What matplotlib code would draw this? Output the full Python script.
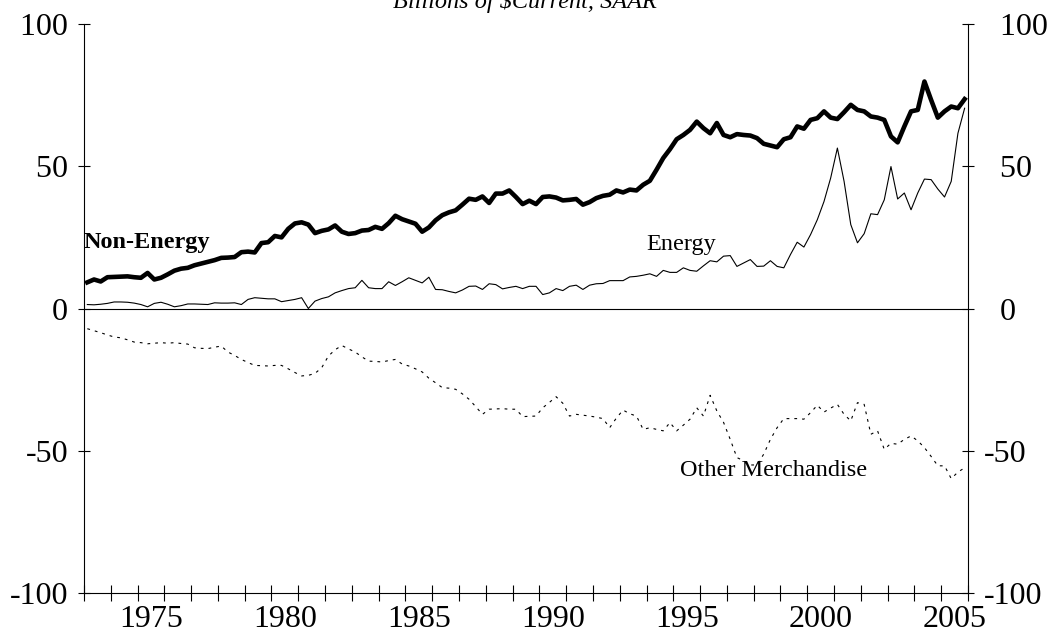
import numpy as np
import matplotlib
matplotlib.use("Agg")
import matplotlib.pyplot as plt

# quarterly, 1973Q1 .. 2005Q4, billions of current $, SAAR
non_energy = [
    9.2, 10.2, 9.5, 11.0,   11.1, 11.2, 11.3, 11.0,   10.8, 12.5, 10.2, 10.8,
    12.0, 13.3, 14.0, 14.3,  15.2, 15.8, 16.4, 17.0,   17.8, 17.9, 18.1, 19.8,
    20.0, 19.7, 23.0, 23.3,  25.5, 25.0, 28.0, 29.9,   30.3, 29.5, 26.5, 27.3,
    27.8, 29.2, 27.0, 26.2,  26.5, 27.4, 27.6, 28.7,   28.0, 30.0, 32.6, 31.4,
    30.6, 29.8, 27.0, 28.5,  31.0, 32.8, 33.8, 34.5,   36.5, 38.6, 38.2, 39.4,
    37.1, 40.4, 40.4, 41.5,  39.2, 36.7, 37.9, 36.7,   39.2, 39.4, 39.0, 38.0,
    38.2, 38.5, 36.5, 37.4,  38.8, 39.6, 40.0, 41.5,   40.8, 41.8, 41.5, 43.5,
    44.9, 48.8, 52.9, 56.0,  59.5, 61.0, 62.8, 65.7,   63.4, 61.6, 65.2, 61.0,
    60.2, 61.3, 61.0, 60.8,  59.9, 57.9, 57.3, 56.7,   59.5, 60.2, 64.0, 63.2,
    66.3, 66.9, 69.3, 67.1,  66.6, 69.0, 71.6, 69.8,   69.3, 67.5, 67.1, 66.3,
    60.5, 58.4, 64.0, 69.3,  69.8, 79.8, 73.3, 67.1,   69.3, 71.0, 70.4, 73.6,
]
energy = [
    1.4, 1.3, 1.5, 1.8,   2.3, 2.3, 2.2, 1.9,   1.4, 0.6, 1.8, 2.2,
    1.5, 0.6, 1.0, 1.6,   1.6, 1.5, 1.4, 2.0,   1.9, 1.9, 2.0, 1.4,
    3.2, 3.8, 3.6, 3.4,   3.4, 2.4, 2.8, 3.2,   3.8, 0.0, 2.6, 3.5,
    4.1, 5.5, 6.3, 7.0,   7.3, 9.9, 7.3, 7.0,   7.0, 9.4, 8.1, 9.4,
    10.8, 9.9, 9.0, 11.0, 6.7, 6.6, 6.0, 5.5,   6.5, 7.8, 7.9, 6.7,
    8.7, 8.4, 6.9, 7.4,   7.8, 7.0, 7.8, 7.8,   4.9, 5.5, 7.0, 6.3,
    7.8, 8.2, 6.7, 8.2,   8.7, 8.8, 9.8, 9.8,   9.8, 11.1, 11.3, 11.7,
    12.2, 11.3, 13.4, 12.7, 12.7, 14.3, 13.4, 13.1, 15.0, 16.8, 16.4, 18.4,
    18.6, 14.8, 16.0, 17.2, 14.8, 14.9, 16.8, 14.8, 14.3, 19.0, 23.3, 21.6,
    26.0, 31.2, 37.6, 45.9, 56.4, 44.7, 29.5, 23.1, 26.3, 33.3, 33.0, 38.2,
    49.9, 38.5, 40.6, 34.7, 40.6, 45.5, 45.3, 42.0, 39.2, 44.7, 61.6, 70.4,
]
other_merch = [
    -7.1, -7.8, -8.5, -9.3,     -10.0, -10.3, -11.0, -11.8,  -12.0, -12.4, -12.2, -12.0,
    -12.2, -12.0, -12.3, -12.5, -13.8, -14.0, -14.1, -13.6,  -13.2, -15.3, -16.5, -17.9,
    -19.0, -20.0, -20.1, -20.2, -20.0, -20.0, -21.2, -22.5,  -23.7, -23.5, -22.8, -20.8,
    -16.7, -14.5, -13.0, -14.2, -15.3, -17.0, -18.5, -18.6,  -18.8, -18.3, -17.9, -19.5,
    -20.2, -21.2, -22.3, -24.5, -26.1, -27.8, -28.0, -28.4,  -30.0, -31.9, -34.5, -37.2,
    -35.4, -35.3, -35.2, -35.4, -35.4, -38.0, -37.9, -37.8,  -34.9, -33.0, -31.0, -33.3,
    -37.8, -37.2, -37.5, -37.8, -38.2, -38.7, -41.9, -38.5,  -35.7, -37.0, -37.8, -42.5,
    -41.9, -42.5, -43.0, -40.1, -43.0, -41.0, -38.9, -34.9,  -37.8, -30.5, -36.0, -40.0,
    -46.0, -52.4, -53.5, -55.0, -55.0, -51.2, -46.0, -41.9,  -38.7, -38.7, -38.7, -38.9,
    -36.6, -34.0, -36.4, -35.0, -33.7, -37.2, -39.5, -33.1,  -33.7, -44.2, -43.0, -49.5,
    -47.4, -47.7, -46.0, -44.8, -46.5, -48.9, -52.0, -55.3,  -55.3, -59.8, -57.5, -56.0,
]
start_year = 1973
end_year = 2006
label_years = [1975, 1980, 1985, 1990, 1995, 2000, 2005]
y_ticks = [-100, -50, 0, 50, 100]

plt.rcParams["font.family"] = ["Liberation Serif", "DejaVu Serif"]
plt.rcParams["axes.unicode_minus"] = False

x = start_year + 0.125 + 0.25 * np.arange(len(non_energy))

fig = plt.figure(figsize=(10.51, 6.39), dpi=100)
ax = fig.add_axes([0.0799, 0.072, 0.8411, 0.8904])

ax.plot(x, non_energy, color="black", lw=3.3, solid_joinstyle="round")
ax.plot(x, energy, color="black", lw=0.8)
ax.plot(x, other_merch, color="black", lw=0.8, linestyle=(0, (2.5, 4.5)))
ax.axhline(0, color="black", lw=0.8)

ax.set_xlim(start_year, end_year)
ax.set_ylim(-100, 100)
ax.spines["top"].set_visible(False)
for s in ("left", "right", "bottom"):
    ax.spines[s].set_linewidth(0.8)

# year boundaries as ticks, labels centred on the year
ax.set_xticks(range(start_year, end_year + 1))
ax.set_xticklabels([])
ax.set_xticks([y + 0.5 for y in label_years], minor=True)
ax.set_xticklabels([str(y) for y in label_years], minor=True)
ax.tick_params(axis="x", which="major", direction="inout", length=11, width=0.8)
ax.tick_params(axis="x", which="minor", length=0, labelsize=23, pad=9)

# y labels on both sides; right side keeps a sign column so digits line up
ax.set_yticks(y_ticks)
ax.set_yticklabels([str(v) if v < 0 else "\u2007" + str(v) for v in y_ticks])
ax.tick_params(axis="y", direction="inout", length=8.5, width=0.8, labelsize=23,
               pad=7, left=True, right=True, labelleft=True, labelright=True)
for t in ax.yaxis.get_major_ticks():
    t.label1.set_text(t.label1.get_text().replace("\u2007", ""))

ax.text(1973.0, 21.3, "Non-Energy", fontsize=17.5, fontweight="bold",
        ha="left", va="baseline")
ax.text(1994.0, 20.7, "Energy", fontsize=17.5, ha="left", va="baseline")
ax.text(1995.26, -58.8, "Other Merchandise", fontsize=17.5, ha="left", va="baseline")

fig.text(0.4995, 1 - 8 / 639, "Billions of $Current, SAAR", fontsize=17.5,
         style="italic", ha="center", va="baseline")

fig.savefig("out.png", dpi=100)
